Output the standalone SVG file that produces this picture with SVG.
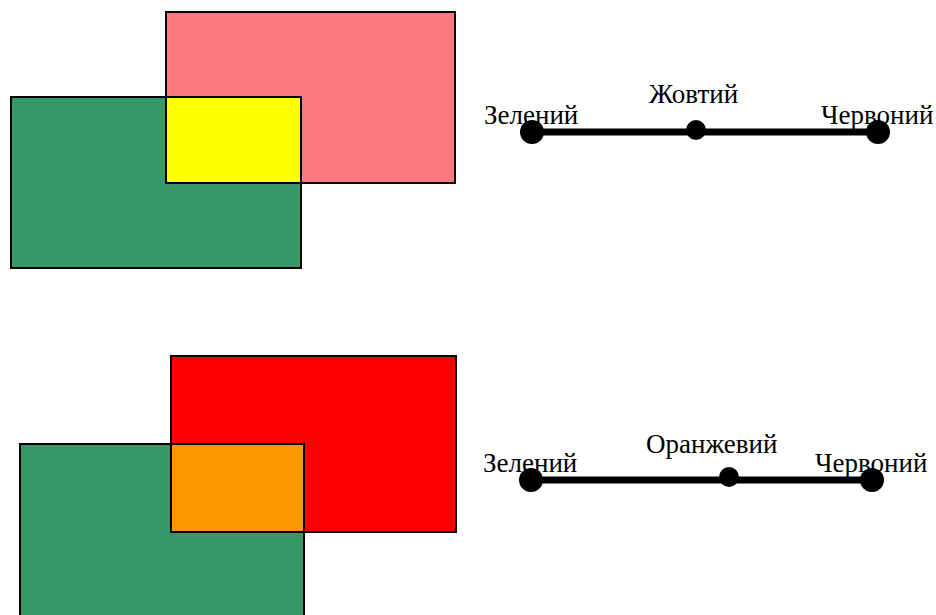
<svg xmlns="http://www.w3.org/2000/svg" width="936" height="615" viewBox="0 0 936 615">
  <style>
    .box { stroke: #000; stroke-width: 2; }
    .scale { stroke: #000; stroke-width: 7; }
    .dot { fill: #000; }
    .lbl { font-family: "Liberation Serif", "Times New Roman", serif; font-size: 27px; fill: #000; }
  </style>
  <rect width="936" height="615" fill="#fff"/>

  <!-- upper pair: light red + green overlap = yellow -->
  <g id="top-red"><rect class="box" x="166" y="12" width="289" height="171" fill="#ff7a7e"/></g>
  <g id="top-green"><rect class="box" x="11" y="97" width="290" height="171" fill="#349867"/></g>
  <g id="top-mix"><rect class="box" x="166" y="97" width="135" height="86" fill="#ffff00"/></g>

  <!-- lower pair: red + green overlap = orange -->
  <g id="bot-red"><rect class="box" x="171" y="356" width="285" height="176" fill="#ff0000"/></g>
  <g id="bot-green"><rect class="box" x="20" y="444" width="284" height="180" fill="#349867"/></g>
  <g id="bot-mix"><rect class="box" x="171" y="444" width="133" height="88" fill="#fd9900"/></g>

  <!-- colour scales -->
  <g id="connectors">
    <line class="scale" x1="532" y1="132" x2="878" y2="132"/>
    <line class="scale" x1="531" y1="480" x2="872" y2="480"/>
  </g>

  <g id="scale-top">
    <circle class="dot" cx="532" cy="132" r="12"/>
    <circle class="dot" cx="696" cy="130" r="10"/>
    <circle class="dot" cx="878" cy="132" r="12"/>
    <text class="lbl" x="484" y="124">Зелений</text>
    <text class="lbl" x="649" y="103">Жовтий</text>
    <text class="lbl" x="821" y="124">Червоний</text>
  </g>

  <g id="scale-bottom">
    <circle class="dot" cx="531" cy="480" r="12"/>
    <circle class="dot" cx="729" cy="477" r="10"/>
    <circle class="dot" cx="872" cy="480" r="12"/>
    <text class="lbl" x="483" y="472">Зелений</text>
    <text class="lbl" x="646" y="453">Оранжевий</text>
    <text class="lbl" x="815" y="472">Червоний</text>
  </g>
</svg>
